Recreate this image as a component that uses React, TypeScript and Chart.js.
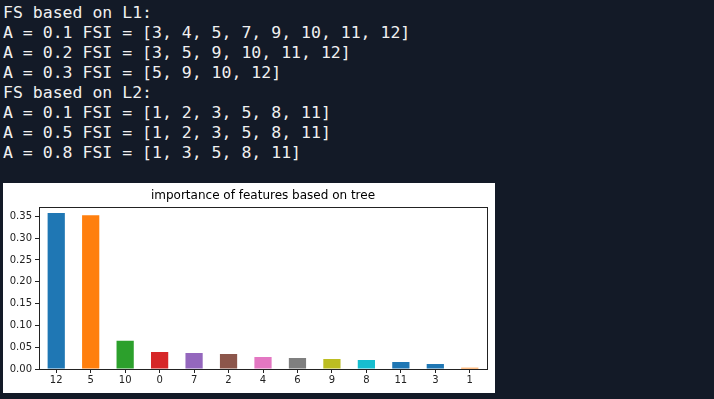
import React, { useEffect, useRef } from "react";
import { Chart, registerables } from "chart.js";

Chart.register(...registerables);

const outputLines = [
  "FS based on L1:",
  "A = 0.1 FSI = [3, 4, 5, 7, 9, 10, 11, 12]",
  "A = 0.2 FSI = [3, 5, 9, 10, 11, 12]",
  "A = 0.3 FSI = [5, 9, 10, 12]",
  "FS based on L2:",
  "A = 0.1 FSI = [1, 2, 3, 5, 8, 11]",
  "A = 0.5 FSI = [1, 2, 3, 5, 8, 11]",
  "A = 0.8 FSI = [1, 3, 5, 8, 11]",
];

const chartTitle = "importance of features based on tree";
const featureLabels = ["12", "5", "10", "0", "7", "2", "4", "6", "9", "8", "11", "3", "1"];
const importances = [0.3575, 0.3525, 0.0645, 0.039, 0.0367, 0.0344, 0.0275, 0.0252, 0.0229, 0.0206, 0.016, 0.0115, 0.003];
const barColors = [
  "#1f77b4", "#ff7f0e", "#2ca02c", "#d62728", "#9467bd", "#8c564b", "#e377c2",
  "#7f7f7f", "#bcbd22", "#17becf", "#1f77b4", "#1f77b4", "#ff7f0e",
];
const yTicks = [0, 0.05, 0.1, 0.15, 0.2, 0.25, 0.3, 0.35];

const frame = {
  id: "frame",
  afterDatasetsDraw(chart: any) {
    const { ctx, chartArea } = chart;
    ctx.save();
    ctx.strokeStyle = "#222";
    ctx.lineWidth = 1;
    ctx.strokeRect(
      Math.round(chartArea.left) + 0.5,
      Math.round(chartArea.top) + 0.5,
      Math.round(chartArea.right - chartArea.left),
      Math.round(chartArea.bottom - chartArea.top)
    );
    ctx.fillStyle = "#000";
    ctx.font = "12px 'DejaVu Sans'";
    ctx.textAlign = "center";
    ctx.textBaseline = "middle";
    ctx.fillText(chartTitle, (chartArea.left + chartArea.right) / 2, 13);
    ctx.restore();
  },
};

export default function App() {
  const ref = useRef<HTMLCanvasElement>(null);
  useEffect(() => {
    document.body.style.margin = "0";
    const chart = new Chart(ref.current!, {
      type: "bar",
      data: {
        labels: featureLabels,
        datasets: [
          {
            data: importances,
            backgroundColor: barColors,
            borderWidth: 0,
            categoryPercentage: 1,
            barPercentage: 0.5,
          },
        ],
      },
      options: {
        animation: false,
        responsive: false,
        layout: { padding: { top: 23.7, right: 8, bottom: 0, left: 0 } },
        plugins: {
          legend: { display: false },
          tooltip: { enabled: false },
          title: { display: false },
        },
        scales: {
          x: {
            grid: { display: true, drawOnChartArea: false, tickLength: 4, tickColor: "#222", offset: false },
            border: { display: false },
            ticks: {
              color: "#222",
              font: { family: "DejaVu Sans", size: 10 },
              padding: 1,
              maxRotation: 0,
              autoSkip: false,
            },
            afterFit(scale: any) {
              scale.height = 24;
            },
          },
          y: {
            min: 0,
            max: 0.372,
            grid: { display: true, drawOnChartArea: false, tickLength: 4, tickColor: "#222" },
            border: { display: false },
            afterBuildTicks(scale: any) {
              scale.ticks = yTicks.map((v) => ({ value: v }));
            },
            ticks: {
              color: "#222",
              font: { family: "DejaVu Sans", size: 10 },
              padding: 3,
              callback: (v: any) => Number(v).toFixed(2),
            },
            afterFit(scale: any) {
              scale.width = 36;
            },
          },
        },
      },
      plugins: [frame],
    });
    return () => chart.destroy();
  }, []);

  return (
    <div
      style={{
        position: "relative",
        width: 714,
        height: 399,
        background: "#131a27",
        overflow: "hidden",
      }}
    >
      <div
        style={{
          position: "absolute",
          left: 3,
          top: 3,
          fontFamily: "'DejaVu Sans Mono', monospace",
          fontSize: 16.5,
          lineHeight: "20px",
          color: "#f0f0f0",
          whiteSpace: "pre",
        }}
      >
        {outputLines.map((l, i) => (
          <div key={i}>{l}</div>
        ))}
      </div>
      <div style={{ position: "absolute", left: 3, top: 183, width: 492, height: 210, background: "#fff" }}>
        <canvas ref={ref} width={492} height={210} />
      </div>
    </div>
  );
}
